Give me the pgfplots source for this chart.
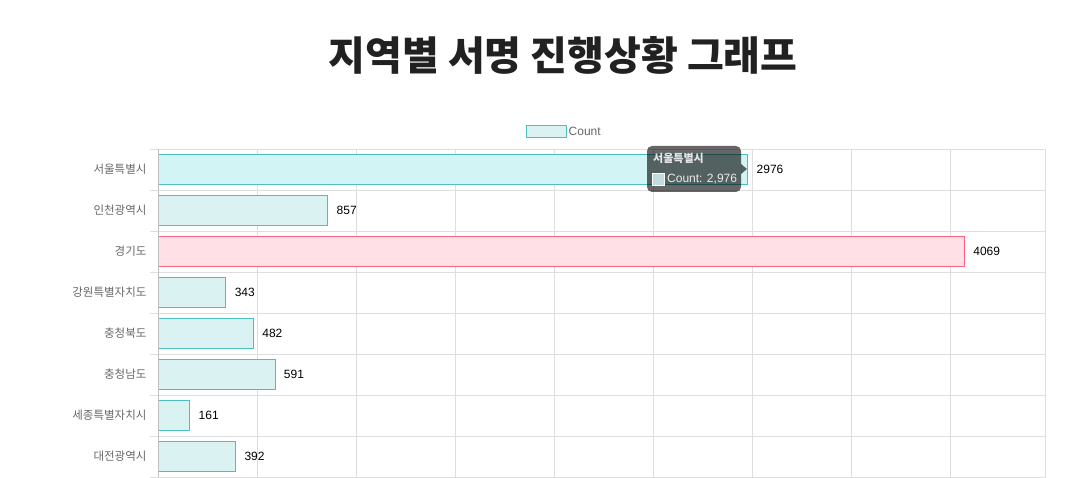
\documentclass[border=0pt]{standalone}
\usepackage{fontspec}
\setmainfont{Liberation Sans}
\newfontfamily\kr{Noto Sans CJK KR}
\usepackage{pgfplots}
\pgfplotsset{compat=1.18}

\definecolor{tealline}{RGB}{75,192,192}
\definecolor{tealfill}{RGB}{219,242,242}
\definecolor{tealhover}{RGB}{210,244,244}
\definecolor{pinkline}{RGB}{255,99,132}
\definecolor{pinkfill}{RGB}{255,224,230}
\definecolor{gridc}{RGB}{222,222,222}
\definecolor{labc}{RGB}{102,102,102}

\begin{document}
\begin{tikzpicture}[x=1pt,y=1pt]
\useasboundingbox (0,0) rectangle (1082,477);
% title
\node[font=\kr\bfseries\fontsize{40}{44}\selectfont, text=black!87] at (563,422) {지역별 서명 진행상황 그래프};

\begin{axis}[
  at={(158pt,0pt)}, anchor=south west,
  scale only axis, width=887pt, height=328pt,
  xbar, bar shift=0pt, bar width=0.72,
  xmin=0, xmax=4475, ymin=-0.5, ymax=7.5, y dir=reverse,
  xtick={0,500,...,4000}, xticklabel=\empty, xmajorgrids,
  ytick={0,...,7},
  yticklabels={서울특별시,인천광역시,경기도,강원특별자치도,충청북도,충청남도,세종특별자치시,대전광역시},
  yticklabel style={font=\kr\fontsize{11.5}{12}\selectfont, text=labc, xshift=-8pt},
  minor ytick={-0.5,0.5,...,7.5}, yminorgrids, ytick pos=left,
  major tick length=0pt, minor tick length=8pt, tick align=outside,
  every tick/.style={gridc, line width=1pt},
  grid style={gridc, line width=1pt},
  minor grid style={gridc, line width=1pt},
  axis line style={gridc, line width=1pt},
  /pgf/number format/assume math mode=true,
  /pgf/number format/1000 sep={},
  nodes near coords,
  nodes near coords style={anchor=west, xshift=5pt, font=\fontsize{12}{14}\selectfont, text=black},
  legend style={at={(0.458,1.052)}, anchor=center, draw=none, fill=none,
    font=\fontsize{12}{14}\selectfont, text=labc},
  legend image code/.code={\draw[draw=tealline, fill=tealfill, line width=1pt] (0pt,-6pt) rectangle (40pt,6pt);},
]
\addplot[draw=tealline, fill=tealfill, line width=1pt] coordinates {
  (857,1) (343,3) (482,4) (591,5) (161,6) (392,7)
};
\addlegendentry{Count}
\addplot[draw=tealline, fill=tealhover, line width=1pt, forget plot] coordinates {
  (2976,0)
};
\addplot[draw=pinkline, fill=pinkfill, line width=1pt, forget plot] coordinates {
  (4069,2)
};
\draw[black!25, line width=1pt] (axis cs:0,-0.5) -- (axis cs:0,7.5);
\end{axis}

% tooltip
\fill[black, opacity=0.6, rounded corners=5pt] (647,285) rectangle (741,331);
\fill[black, opacity=0.6] (741,303) -- (747,308) -- (741,313) -- cycle;
\node[anchor=west, font=\kr\bfseries\fontsize{11}{12}\selectfont, text=white!90!black, inner sep=0pt] at (653,319) {서울특별시};
\draw[white, fill=tealhover!80!gray, line width=0.8pt] (652,292) rectangle (664,304);
\node[anchor=west, font=\fontsize{12}{14}\selectfont, text=white!92!black, inner sep=0pt] at (667,298) {Count: 2,976};
\end{tikzpicture}
\end{document}
